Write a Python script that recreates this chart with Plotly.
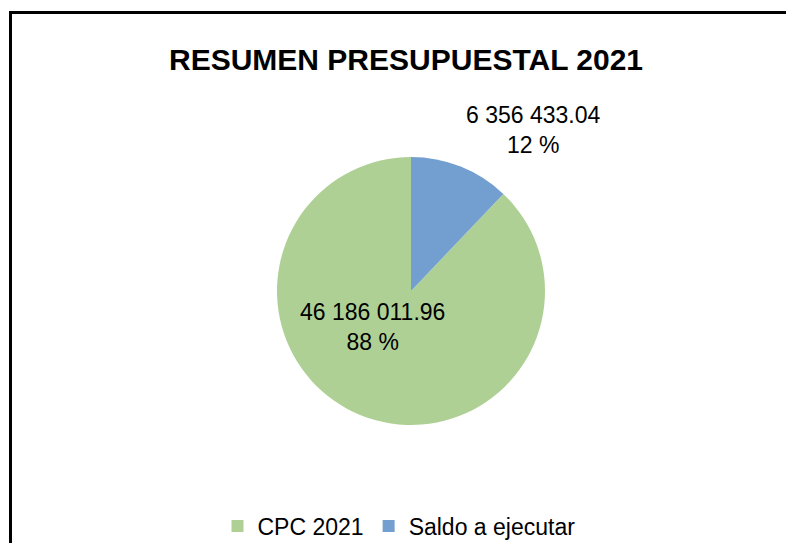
import plotly.graph_objects as go

# Data
categories = ["CPC 2021", "Saldo a ejecutar"]
values = [46186011.96, 6356433.04]
colors = ["#AFD095", "#729FCF"]
title_text = "RESUMEN PRESUPUESTAL 2021"

W, H = 794, 543
OFF = 8  # page body margin offset
FONT = "Liberation Sans, Arial, sans-serif"

total = sum(values)


def fmt(v):
    return f"{v:,.2f}".replace(",", " ")


def px_x(x):
    return (x - OFF) / W


def px_y(y):
    return 1 - (y - OFF) / H


labels_txt = [f"{fmt(v)}<br>{round(v / total * 100)} %" for v in values]

fig = go.Figure()
fig.add_trace(go.Pie(
    labels=categories,
    values=values,
    marker=dict(colors=colors, line=dict(width=0)),
    sort=False,
    direction="clockwise",
    rotation=values[1] / total * 360,
    textinfo="none",
    hoverinfo="label+value+percent",
    domain=dict(x=[px_x(277), px_x(545)], y=[px_y(425), px_y(157)]),
    showlegend=True,
))

# label positions (pixel centres)
label_pos = [(372, 327), (533, 130)]
annotations = []
for txt, (px, py) in zip(labels_txt, label_pos):
    annotations.append(dict(
        text=txt, x=px_x(px), y=px_y(py), xref="paper", yref="paper",
        xanchor="center", yanchor="middle", showarrow=False,
        font=dict(family=FONT, size=23, color="#000000"), align="center",
    ))
annotations.append(dict(
    text=f"<b>{title_text}</b>", x=px_x(406), y=px_y(60), xref="paper", yref="paper",
    xanchor="center", yanchor="middle", showarrow=False,
    font=dict(family=FONT, size=30, color="#000000"),
))

fig.update_layout(
    width=W, height=H,
    margin=dict(l=0, r=0, t=0, b=0),
    paper_bgcolor="white",
    plot_bgcolor="white",
    font=dict(family=FONT, size=23, color="#000000"),
    annotations=annotations,
    legend=dict(
        orientation="h", x=px_x(399), xanchor="center", y=px_y(526), yanchor="middle",
        font=dict(family=FONT, size=23, color="#000000"),
        itemwidth=30, traceorder="normal",
        bgcolor="rgba(0,0,0,0)",
    ),
    shapes=[dict(
        type="rect", xref="paper", yref="paper",
        x0=px_x(10.5), x1=1.2, y0=-0.2, y1=px_y(12.5),
        line=dict(color="#000000", width=3), fillcolor="rgba(0,0,0,0)",
    )],
)

fig.write_html("out.html")
